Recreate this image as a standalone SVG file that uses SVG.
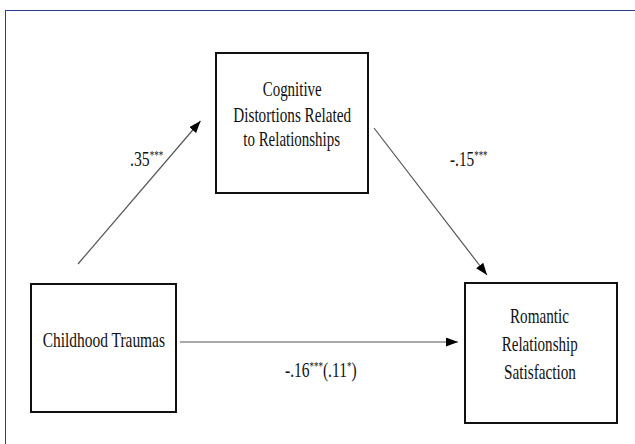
<svg xmlns="http://www.w3.org/2000/svg" width="635" height="444" viewBox="0 0 635 444">
<defs>
<marker id="ah" markerUnits="userSpaceOnUse" markerWidth="13" markerHeight="10" refX="12" refY="4.5" orient="auto">
<path d="M0,0 L12,4.5 L0,9 z" fill="#000"/>
</marker>
<style>
.box{fill:#fff;stroke:#111;stroke-width:2}
.t{font-family:"Liberation Serif","Times New Roman",serif;font-size:22px;fill:#111;text-anchor:start}
.l{font-family:"Liberation Serif","Times New Roman",serif;font-size:21px;fill:#111;text-anchor:start}
.s{font-size:12px}
.ln{stroke:#555;stroke-width:1.2;fill:none}
</style>
</defs>
<rect x="0" y="0" width="635" height="444" fill="#fff"/>
<rect x="5.5" y="10.5" width="640" height="450" fill="none" stroke="#2b3f8f" stroke-width="1"/>
<g id="connectors">
<line class="ln" x1="78" y1="264" x2="200.5" y2="121" marker-end="url(#ah)"/>
<line class="ln" x1="374" y1="128" x2="487" y2="275" marker-end="url(#ah)"/>
<line class="ln" x1="180" y1="342" x2="458" y2="342" marker-end="url(#ah)"/>
<text id="label-a" class="l" transform="translate(130,166) scale(0.75,1)">.35<tspan class="s" baseline-shift="7">***</tspan></text>
<text id="label-b" class="l" transform="translate(450,166) scale(0.73,1)">-.15<tspan class="s" baseline-shift="7">***</tspan></text>
<text id="label-c" class="l" transform="translate(285,377) scale(0.74,1)">-.16<tspan class="s" baseline-shift="7">***</tspan>(.11<tspan class="s" baseline-shift="7">*</tspan>)</text>
</g>
<g id="node-cognitive">
<rect class="box" x="216" y="53" width="152" height="140"/>
<text class="t" x="262.7" y="96" textLength="59" lengthAdjust="spacingAndGlyphs">Cognitive</text>
<text class="t" x="233.3" y="121.5" textLength="117.7" lengthAdjust="spacingAndGlyphs">Distortions Related</text>
<text class="t" x="243.3" y="146" textLength="96.7" lengthAdjust="spacingAndGlyphs">to Relationships</text>
</g>
<g id="node-childhood">
<rect class="box" x="31" y="284" width="145" height="128"/>
<text class="t" x="42.7" y="346.5" textLength="122.3" lengthAdjust="spacingAndGlyphs">Childhood Traumas</text>
</g>
<g id="node-romantic">
<rect class="box" x="465" y="283" width="152" height="140"/>
<text class="t" x="510" y="323" textLength="59" lengthAdjust="spacingAndGlyphs">Romantic</text>
<text class="t" x="501.7" y="351" textLength="76" lengthAdjust="spacingAndGlyphs">Relationship</text>
<text class="t" x="504" y="379" textLength="72" lengthAdjust="spacingAndGlyphs">Satisfaction</text>
</g>
</svg>
